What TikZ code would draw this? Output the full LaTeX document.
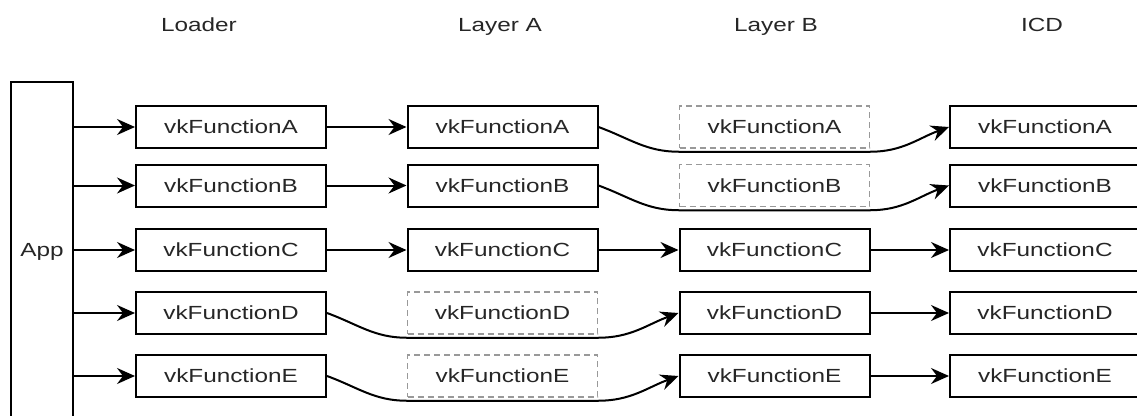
\documentclass[tikz,border=0pt]{standalone}
\usepackage{fontspec}
\setmainfont[FakeStretch=1.28]{Liberation Sans}
\usetikzlibrary{arrows.meta}
\begin{document}
\begin{tikzpicture}[x=1pt,y=-1pt,
  every node/.style={font=\fontsize{19}{22}\selectfont, inner sep=0pt, text=black!85},
  fbox/.style={draw, line width=2pt, minimum width=190pt, minimum height=42pt},
  gbox/.style={draw=gray!80, dash pattern=on 6pt off 4pt, line width=1.5pt, minimum width=190pt, minimum height=42pt},
  arr/.style={line width=2pt, -{Stealth[length=18pt,width=16pt,inset=6pt]}},
  hdr/.style={anchor=base}]
\useasboundingbox (0,0) rectangle (1137,415);

% headers
\node[hdr] (hL) at (199,31) {Loader};
\node[hdr] (hA) at (500,31) {Layer A};
\node[hdr] (hB) at (776,31) {Layer B};
\node[hdr] (hI) at (1042,31) {ICD};

% App
\node[fbox, minimum width=62pt, minimum height=340pt] (app) at (42,252) {App};

% Loader
\node[fbox] (L1) at (231,127) {vkFunctionA};
\node[fbox] (L2) at (231,185.5) {vkFunctionB};
\node[fbox] (L3) at (231,250) {vkFunctionC};
\node[fbox] (L4) at (231,313) {vkFunctionD};
\node[fbox] (L5) at (231,376) {vkFunctionE};

% Layer A
\node[fbox] (A1) at (502.5,127) {vkFunctionA};
\node[fbox] (A2) at (502.5,185.5) {vkFunctionB};
\node[fbox] (A3) at (502.5,250) {vkFunctionC};
\node[gbox] (A4) at (502.5,313) {vkFunctionD};
\node[gbox] (A5) at (502.5,376) {vkFunctionE};

% Layer B
\node[gbox] (B1) at (774.5,127) {vkFunctionA};
\node[gbox] (B2) at (774.5,185.5) {vkFunctionB};
\node[fbox] (B3) at (774.5,250) {vkFunctionC};
\node[fbox] (B4) at (774.5,313) {vkFunctionD};
\node[fbox] (B5) at (774.5,376) {vkFunctionE};

% ICD
\node[fbox] (I1) at (1045,127) {vkFunctionA};
\node[fbox] (I2) at (1045,185.5) {vkFunctionB};
\node[fbox] (I3) at (1045,250) {vkFunctionC};
\node[fbox] (I4) at (1045,313) {vkFunctionD};
\node[fbox] (I5) at (1045,376) {vkFunctionE};

% App to loader
\foreach \i in {1,...,5}{
  \draw[arr] (L\i.west -| app.east) -- (L\i.west);
}

% straight arrows
\draw[arr] (L1) -- (A1);
\draw[arr] (L2) -- (A2);
\draw[arr] (L3) -- (A3);
\draw[arr] (A3) -- (B3);
\draw[arr] (B3) -- (I3);
\draw[arr] (B4) -- (I4);
\draw[arr] (B5) -- (I5);

% bypass curves
\draw[arr] (A1.east) to[out=-20,in=180] ([yshift=-3pt]B1.south west) -- ([yshift=-3pt]B1.south east) to[out=0,in=200] (I1.west);
\draw[arr] (A2.east) to[out=-20,in=180] ([yshift=-3pt]B2.south west) -- ([yshift=-3pt]B2.south east) to[out=0,in=200] (I2.west);
\draw[arr] (L4.east) to[out=-20,in=180] ([yshift=-3pt]A4.south west) -- ([yshift=-3pt]A4.south east) to[out=0,in=200] (B4.west);
\draw[arr] (L5.east) to[out=-20,in=180] ([yshift=-3pt]A5.south west) -- ([yshift=-3pt]A5.south east) to[out=0,in=200] (B5.west);
\end{tikzpicture}
\end{document}
